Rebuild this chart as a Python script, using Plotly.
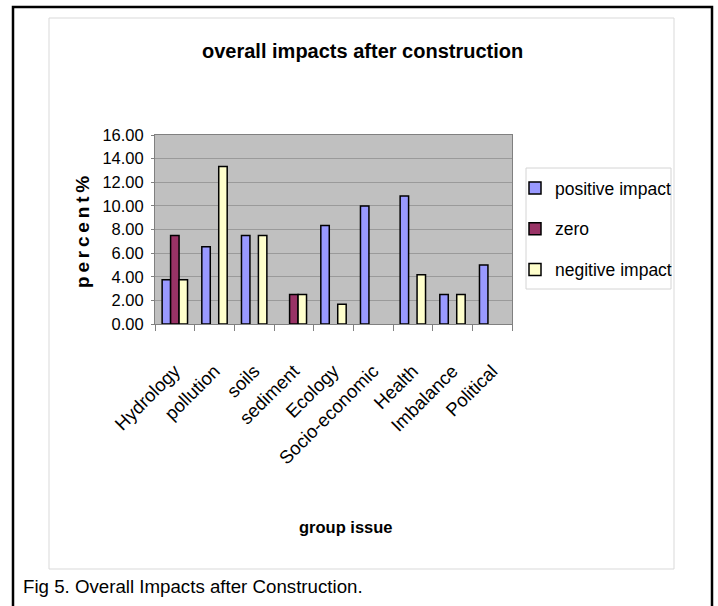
import plotly.graph_objects as go

categories = ["Hydrology", "pollution", "soils", "sediment", "Ecology",
              "Socio-economic", "Health", "Imbalance", "Political"]
positive_impact = [3.75, 6.54, 7.50, None, 8.33, 10.00, 10.83, 2.50, 5.00]
zero = [7.50, None, None, 2.50, None, None, None, None, None]
negitive_impact = [3.75, 13.33, 7.50, 2.50, 1.67, None, 4.17, 2.50, None]
y_ticks = [0, 2, 4, 6, 8, 10, 12, 14, 16]

W, H = 718, 606
L, R, T, B = 155, 512, 135, 324


def px(x):
    return (x - L) / (R - L)


def py(y):
    return (B - y) / (B - T)


SANS = "Liberation Sans, Arial, sans-serif"

fig = go.Figure()
for name, vals, color in [("positive impact", positive_impact, "#9999FF"),
                          ("zero", zero, "#993366"),
                          ("negitive impact", negitive_impact, "#FFFFCC")]:
    fig.add_trace(go.Bar(x=categories, y=vals, name=name, legendgroup=name,
                         marker=dict(color=color, line=dict(color="#000000", width=1.5))))

fig.update_layout(
    width=W, height=H,
    margin=dict(l=L, r=W - R, t=T, b=H - B),
    paper_bgcolor="white", plot_bgcolor="#C0C0C0",
    barmode="group", bargap=0.36, bargroupgap=0,
    showlegend=True,
    legend=dict(x=px(515), y=py(170), xanchor="left", yanchor="top",
                bgcolor="rgba(0,0,0,0)", borderwidth=0,
                font=dict(family=SANS, size=17.5, color="black"),
                tracegroupgap=15, itemwidth=30),
    xaxis=dict(type="category", tickangle=-45, ticks="outside", ticklen=6,
               tickcolor="#808080", tickson="boundaries", showgrid=False,
               showline=True, linecolor="#808080", linewidth=1, mirror=True,
               tickfont=dict(family=SANS, size=18.5, color="black"),
               ticklabelstandoff=28),
    yaxis=dict(range=[0, 16], tickvals=y_ticks, tickformat=".2f",
               ticks="outside", ticklen=3, tickcolor="#808080",
               showline=True, linecolor="#808080", linewidth=1, mirror=True,
               gridcolor="#9a9a9a", gridwidth=1, zeroline=False,
               ticklabelstandoff=4,
               tickfont=dict(family=SANS, size=16.5, color="black")),
    shapes=[
        dict(type="rect", xref="paper", yref="paper",
             x0=px(49), x1=px(674), y0=py(569), y1=py(18),
             line=dict(color="#d9d9d9", width=1), layer="below"),
        dict(type="rect", xref="paper", yref="paper",
             x0=px(13), x1=px(712), y0=py(640), y1=py(7),
             line=dict(color="black", width=2.5), layer="below"),
        dict(type="rect", xref="paper", yref="paper",
             x0=px(526), x1=px(671), y0=py(289), y1=py(168),
             fillcolor="white", line=dict(color="#d4d4d4", width=1), layer="below"),
    ],
    annotations=[
        dict(text="<b>overall impacts after construction</b>", xref="paper", yref="paper",
             x=px(362), y=py(51), xanchor="center", yanchor="middle", showarrow=False,
             font=dict(family=SANS, size=20, color="black")),
        dict(text="<b>p\u2009e\u2009r\u2009c\u2009e\u2009n\u2009t\u2009%</b>", xref="paper", yref="paper",
             x=px(82), y=py(232), xanchor="center", yanchor="middle", showarrow=False,
             textangle=-90, font=dict(family=SANS, size=19, color="black")),
        dict(text="<b>group issue</b>", xref="paper", yref="paper",
             x=px(346), y=py(527), xanchor="center", yanchor="middle", showarrow=False,
             font=dict(family=SANS, size=16.5, color="black")),
        dict(text="Fig 5. Overall Impacts after Construction.", xref="paper", yref="paper",
             x=px(21), y=py(586), xanchor="left", yanchor="middle", showarrow=False,
             font=dict(family=SANS, size=18.7, color="black")),
    ],
)

fig.write_html("out.html")
